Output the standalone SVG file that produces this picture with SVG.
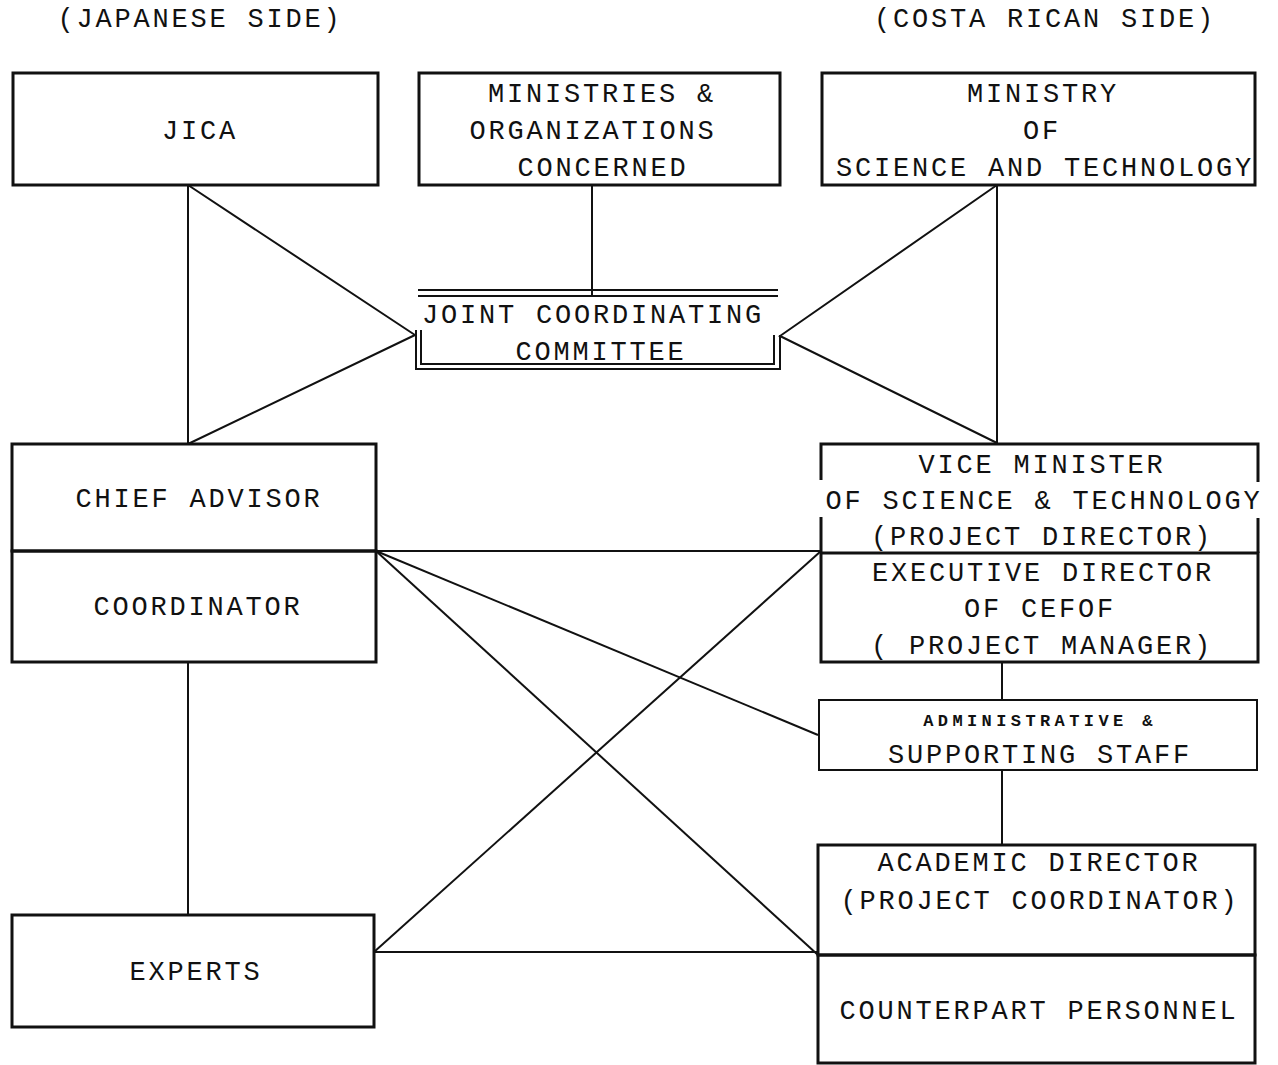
<svg xmlns="http://www.w3.org/2000/svg" width="1278" height="1065" viewBox="0 0 1278 1065">
<style>
.t{font-family:"Liberation Mono","DejaVu Sans Mono",monospace;font-size:27px;letter-spacing:2.8px;fill:#111;text-anchor:middle}
.s{font-family:"Liberation Mono","DejaVu Sans Mono",monospace;font-size:17px;letter-spacing:4.4px;fill:#111;text-anchor:middle;font-weight:bold}
.b{fill:none;stroke:#111;stroke-width:3}
.bt{fill:none;stroke:#111;stroke-width:2}
.c{fill:none;stroke:#111;stroke-width:2}
</style>
<rect width="1278" height="1065" fill="#fff"/>
<text class="t" x="200" y="27">(JAPANESE SIDE)</text>
<text class="t" x="1045" y="27">(COSTA RICAN SIDE)</text>
<g id="connectors">
<line class="c" x1="188" y1="185" x2="188" y2="444"/>
<polyline class="c" points="188,185 415,335 188,444"/>
<line class="c" x1="997" y1="185" x2="997" y2="443"/>
<polyline class="c" points="997,185 780,336 997,443"/>
<line class="c" x1="592" y1="185" x2="592" y2="295"/>
<line class="c" x1="188" y1="662" x2="188" y2="915"/>
<line class="c" x1="1002" y1="662" x2="1002" y2="700"/>
<line class="c" x1="1002" y1="770" x2="1002" y2="845"/>
<line class="c" x1="376" y1="551" x2="821" y2="551"/>
<line class="c" x1="376" y1="551" x2="818" y2="735"/>
<line class="c" x1="376" y1="551" x2="818" y2="955"/>
<line class="c" x1="374" y1="952" x2="818" y2="952"/>
<line class="c" x1="374" y1="952" x2="821" y2="551"/>
</g>
<g id="jica">
<rect class="b" x="13" y="73" width="365" height="112"/>
<text class="t" x="200" y="139">JICA</text>
</g>
<g id="ministries">
<rect class="b" x="419" y="73" width="361" height="112"/>
<text class="t" x="602" y="102">MINISTRIES &amp;</text>
<text class="t" x="593" y="139">ORGANIZATIONS</text>
<text class="t" x="603" y="176">CONCERNED</text>
</g>
<g id="most">
<rect class="b" x="822" y="73" width="433" height="112"/>
<text class="t" x="1043" y="102">MINISTRY</text>
<text class="t" x="1042" y="139">OF</text>
<text class="t" x="1045" y="176">SCIENCE AND TECHNOLOGY</text>
</g>
<g id="jcc">
<line class="bt" x1="418" y1="290" x2="778" y2="290"/>
<line class="bt" x1="418" y1="296" x2="778" y2="296"/>
<polyline class="bt" points="416,330 416,369 780,369 780,335"/>
<polyline class="bt" points="421,330 421,364 774,364 774,335"/>
<text class="t" x="593" y="323">JOINT COORDINATING</text>
<text class="t" x="601" y="360">COMMITTEE</text>
</g>
<g id="chief-advisor">
<rect class="b" x="12" y="444" width="364" height="107"/>
<text class="t" x="199" y="507">CHIEF ADVISOR</text>
</g>
<g id="coordinator">
<rect class="b" x="12" y="551" width="364" height="111"/>
<text class="t" x="198" y="615">COORDINATOR</text>
</g>
<g id="experts">
<rect class="b" x="12" y="915" width="362" height="112"/>
<text class="t" x="196" y="980">EXPERTS</text>
</g>
<g id="vice-minister">
<polyline class="b" points="821,480 821,444 1258,444 1258,482"/>
<line class="b" x1="821" y1="517" x2="821" y2="553"/>
<line class="b" x1="1258" y1="518" x2="1258" y2="553"/>
<text class="t" x="1042" y="473">VICE MINISTER</text>
<text class="t" x="1044" y="509">OF SCIENCE &amp; TECHNOLOGY</text>
<text class="t" x="1042" y="545">(PROJECT DIRECTOR)</text>
</g>
<g id="executive-director">
<rect class="b" x="821" y="553" width="437" height="109"/>
<text class="t" x="1043" y="581">EXECUTIVE DIRECTOR</text>
<text class="t" x="1040" y="617">OF CEFOF</text>
<text class="t" x="1042" y="654">( PROJECT MANAGER)</text>
</g>
<g id="admin-staff">
<rect class="bt" x="819" y="700" width="438" height="70"/>
<text class="s" x="1040" y="726">ADMINISTRATIVE &amp;</text>
<text class="t" x="1040" y="763">SUPPORTING STAFF</text>
</g>
<g id="academic-director">
<rect class="b" x="818" y="845" width="437" height="110"/>
<text class="t" x="1039" y="871">ACADEMIC DIRECTOR</text>
<text class="t" x="1040" y="909">(PROJECT COORDINATOR)</text>
</g>
<g id="counterpart">
<rect class="b" x="818" y="955" width="437" height="108"/>
<text class="t" x="1039" y="1019">COUNTERPART PERSONNEL</text>
</g>
</svg>
